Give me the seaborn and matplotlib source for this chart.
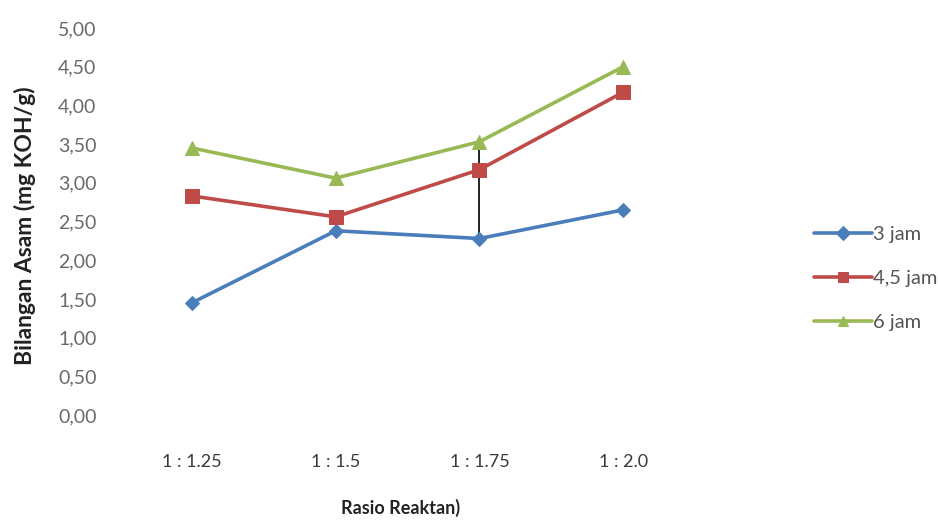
import matplotlib
matplotlib.use("Agg")
import matplotlib.pyplot as plt
import seaborn as sns
import pandas as pd
from matplotlib.ticker import FuncFormatter, MultipleLocator

# Reactant ratios and acid numbers (mg KOH/g) for each reaction time
ratios = ["1 : 1.25", "1 : 1.5", "1 : 1.75", "1 : 2.0"]
jam_3 = [1.45, 2.38, 2.28, 2.65]
jam_45 = [2.83, 2.56, 3.17, 4.17]
jam_6 = [3.45, 3.06, 3.53, 4.50]
series_names = ["3 jam", "4,5 jam", "6 jam"]

df = pd.concat([
    pd.DataFrame({"Rasio": ratios, "Nilai": vals, "Waktu": name})
    for name, vals in zip(series_names, [jam_3, jam_45, jam_6])
], ignore_index=True)
df["pos"] = df["Rasio"].map({r: i for i, r in enumerate(ratios)})

sns.set_theme(style="white")
plt.rcParams["font.family"] = ["Lato", "DejaVu Sans"]

colors = {"3 jam": "#4A7EBB", "4,5 jam": "#BE4B48", "6 jam": "#98B954"}
markers = {"3 jam": "D", "4,5 jam": "s", "6 jam": "^"}
msizes = {"3 jam": 7, "4,5 jam": 10, "6 jam": 10}

fig = plt.figure(figsize=(9.38, 5.23), dpi=100)
ax = fig.add_axes([0.128, 0.2065, 0.613, 0.74])

# Vertical connector between the 3 jam and 6 jam readings at 1 : 1.75
ax.vlines(2, jam_3[2], jam_6[2], color="black", linewidth=1.2, zorder=1)

for name in series_names:
    sub = df[df["Waktu"] == name]
    sns.lineplot(data=sub, x="pos", y="Nilai", ax=ax, color=colors[name],
                 linewidth=2.6, marker=markers[name], markersize=msizes[name],
                 markeredgecolor=colors[name], label=name, zorder=2)

ax.set_xlim(-0.5, len(ratios) - 0.5)
ax.set_ylim(0, 5)
ax.set_xticks(range(len(ratios)))
ax.set_xticklabels(ratios)
ax.yaxis.set_major_locator(MultipleLocator(0.5))
ax.yaxis.set_major_formatter(FuncFormatter(lambda v, _: f"{v:.2f}".replace(".", ",")))
ax.tick_params(axis="y", length=0, pad=17, labelsize=14, labelcolor="#6a6a6a")
ax.tick_params(axis="x", length=0, pad=28, labelsize=13, labelcolor="#3a3a3a")
for s in ax.spines.values():
    s.set_visible(False)
ax.grid(False)

ax.set_xlabel("Rasio Reaktan)", fontsize=13, fontweight="bold", color="#222222")
ax.xaxis.set_label_coords(0.487, -0.218)
ax.set_ylabel("Bilangan Asam (mg KOH/g)", fontsize=16.5, fontweight="bold", color="#222222")
ax.yaxis.set_label_coords(-0.146, 0.49)

leg = ax.legend(loc="center left", bbox_to_anchor=(1.175, 0.353), frameon=False,
                fontsize=14.5, handlelength=2.9, handletextpad=0.05, labelspacing=1.35)
for t in leg.get_texts():
    t.set_color("#555555")
for h in leg.legend_handles:
    h.set_markersize(7)

fig.savefig("out.png", dpi=100)
